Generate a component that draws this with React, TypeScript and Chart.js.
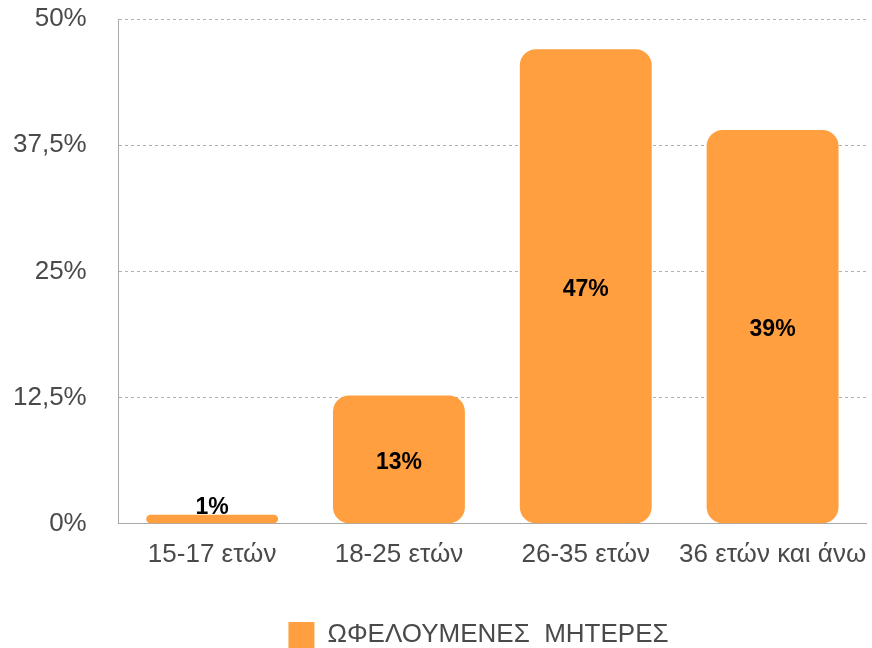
import React, { useEffect, useRef } from "react";
import { Chart, registerables } from "chart.js";

Chart.register(...registerables);

const categories = ["15-17 ετών", "18-25 ετών", "26-35 ετών", "36 ετών και άνω"];
const values = [0.9, 12.7, 47, 39];
const seriesName = "ΩΦΕΛΟΥΜΕΝΕΣ  ΜΗΤΕΡΕΣ";
const yTicks = [0, 12.5, 25, 37.5, 50];

const FONT = "'Liberation Sans', Arial, Helvetica, sans-serif";

const labelPlugin = {
  id: "barLabels",
  afterDatasetsDraw(chart: any) {
    const ctx = chart.ctx;
    const meta = chart.getDatasetMeta(0);
    ctx.save();
    ctx.font = `bold 23px ${FONT}`;
    ctx.fillStyle = "#000";
    ctx.textAlign = "center";
    meta.data.forEach((bar: any, i: number) => {
      const txt = Math.round(values[i]) + "%";
      const h = bar.base - bar.y;
      if (h < 30) {
        ctx.textBaseline = "alphabetic";
        ctx.fillText(txt, bar.x, bar.y - 1);
      } else {
        ctx.textBaseline = "middle";
        ctx.fillText(txt, bar.x, (bar.y + bar.base) / 2 + 3);
      }
    });
    ctx.restore();
  },
};

const legendShift = {
  id: "legendShift",
  afterLayout(chart: any) {
    const lg = chart.legend;
    if (lg) {
      lg.left += 52;
      lg.right += 52;
    }
  },
};

export default function App() {
  const ref = useRef<HTMLCanvasElement>(null);
  useEffect(() => {
    const chart = new Chart(ref.current!, {
      type: "bar",
      data: {
        labels: categories,
        datasets: [
          {
            label: seriesName,
            data: values,
            backgroundColor: "#FF9F40",
            borderRadius: 16,
            borderSkipped: false,
            categoryPercentage: 0.706,
            barPercentage: 1,
          },
        ],
      },
      options: {
        animation: false,
        responsive: true,
        maintainAspectRatio: false,
        layout: { padding: { top: 0, right: 0, left: -19, bottom: -10 } },
        plugins: {
          tooltip: { enabled: false },
          legend: {
            position: "bottom",
            labels: {
              boxWidth: 26,
              boxHeight: 26,
              padding: 45,
              color: "#4a4a4a",
              font: { family: FONT, size: 26 },
            },
          },
        },
        scales: {
          x: {
            grid: { display: false },
            border: { color: "#aaa", width: 1 },
            afterFit: (axis: any) => {
              axis.paddingRight = 6;
              axis.paddingLeft = 0;
            },
            ticks: {
              color: "#4a4a4a",
              padding: 7,
              maxRotation: 0,
              minRotation: 0,
              autoSkip: false,
              font: { family: FONT, size: 26 },
            },
          },
          y: {
            min: 0,
            max: 50,
            afterBuildTicks: (axis: any) => {
              axis.ticks = yTicks.map((v) => ({ value: v }));
            },
            afterFit: (axis: any) => {
              axis.paddingTop = 19;
              axis.paddingBottom = 0;
            },
            grid: { color: "#b0b0b0", drawTicks: false },
            border: { color: "#aaa", width: 1, dash: [3, 3] },
            ticks: {
              color: "#4a4a4a",
              padding: 32,
              font: { family: FONT, size: 26 },
              callback: (v: any) => String(v).replace(".", ",") + "%",
            },
          },
        },
      },
      plugins: [labelPlugin, legendShift],
    } as any);
    return () => chart.destroy();
  }, []);
  return (
    <div style={{ position: "fixed", left: 0, top: 0, width: 872, height: 648 }}>
      <canvas ref={ref} />
    </div>
  );
}
